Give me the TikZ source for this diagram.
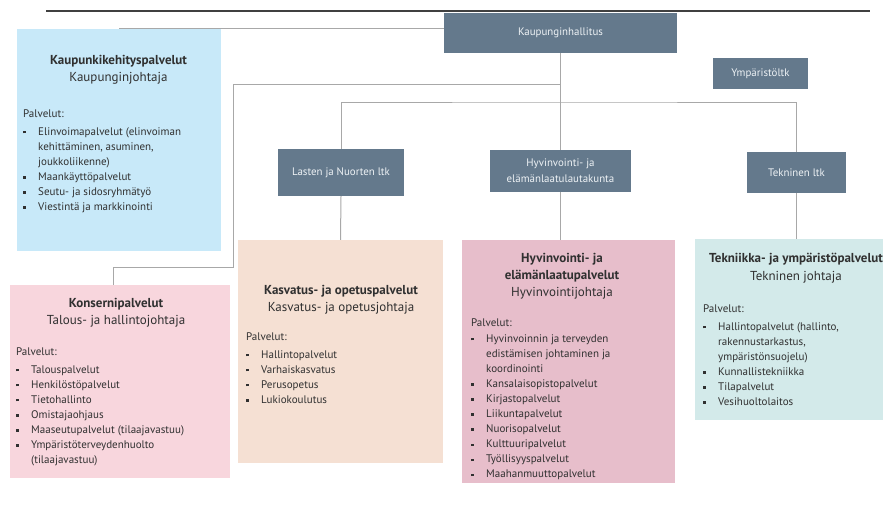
\documentclass[tikz,border=0pt]{standalone}
\usepackage{fontspec}
\setmainfont{PT Sans}
\usetikzlibrary{calc}
\definecolor{slate}{HTML}{64798C}
\definecolor{kkblue}{HTML}{C8E9F9}
\definecolor{konpink}{HTML}{F8D6DD}
\definecolor{kaspeach}{HTML}{F5E0D3}
\definecolor{hyvpink}{HTML}{E7BECB}
\definecolor{tekteal}{HTML}{D3EAEA}
\definecolor{txt}{HTML}{303030}
\definecolor{boardtxt}{HTML}{EEF2F5}
\definecolor{conn}{HTML}{A8A8A8}
\definecolor{topline}{HTML}{404040}
\newcommand\bitem{\makebox[15pt][l]{\raisebox{1.8pt}{\rule{2.4pt}{2.4pt}}}}
\newcommand\bcont{\hspace*{15pt}}
\tikzset{
 board/.style={fill=slate, draw=none, text=boardtxt, font=\fontsize{10.9}{13}\selectfont, align=center, inner sep=0pt},
 unit/.style={draw=none, inner sep=0pt},
 ttl/.style={anchor=north, align=center, inner sep=0pt, text=txt, font=\fontsize{13}{17}\selectfont},
 lst/.style={anchor=north west, align=left, inner sep=0pt, text=txt, font=\fontsize{11}{15.1}\selectfont},
 link/.style={draw=conn, line width=1pt},
}
\begin{document}
\begin{tikzpicture}[x=1pt,y=-1pt]
\useasboundingbox (0,0) rectangle (883,514);
\clip (0,0) rectangle (883,514);

% top rule
\coordinate (rl) at (46,11);
\coordinate (rr) at (870,11);
\draw[line width=1.4pt, draw=topline] (rl) -- (rr);

% service units
\node[unit, fill=kkblue, minimum width=204pt, minimum height=222pt] (kk) at (119,140) {};
\node[unit, fill=konpink, minimum width=220pt, minimum height=193pt] (kon) at (120,381.5) {};
\node[unit, fill=kaspeach, minimum width=205pt, minimum height=223pt] (kas) at (340.5,351.5) {};
\node[unit, fill=hyvpink, minimum width=213pt, minimum height=243pt] (hyv) at (568.5,361.5) {};
\node[unit, fill=tekteal, minimum width=204pt, minimum height=181pt] (tkn) at (797,329.5) {};

% boards
\node[board, minimum width=233pt, minimum height=40pt] (kh) at (560.5,33) {Kaupunginhallitus};
\node[board, minimum width=95pt, minimum height=31pt] (ymp) at (760.5,73.5) {Ympäristöltk};
\node[board, minimum width=126pt, minimum height=47pt] (lnl) at (341,172.5) {Lasten ja Nuorten ltk};
\node[board, minimum width=141pt, minimum height=42pt] (hyl) at (560.5,171) {Hyvinvointi- ja\\[3pt]elämänlaatulautakunta};
\node[board, minimum width=99pt, minimum height=41pt] (tek) at (796.5,172.5) {Tekninen ltk};

% connectors
\coordinate (j1) at (560.5,84);
\coordinate (t1) at (233,267);
\coordinate (bus) at (560.5,102);
\draw[link] ([yshift=5pt]kh.west) -| (kk.north);
\draw[link] (kh.south) -- (hyl.north);
\draw[link] (lnl.north) |- (bus) -| (tek.north);
\draw[link] (j1) -| (t1) -| ([xshift=-7pt]kon.north);
\draw[link] (lnl.south) -- (kas.north);
\draw[link] (hyl.south) -- (hyl.south |- hyv.north);
\draw[link] (tek.south) -- (tek.south |- tkn.north);

% texts
\node[ttl] (kkt) at (118.5,55) {\textbf{Kaupunkikehityspalvelut}\\Kaupunginjohtaja};
\node[lst] (kkl) at (23,110) {Palvelut:\\[2pt]
\bitem Elinvoimapalvelut (elinvoiman\\
\bcont kehittäminen, asuminen,\\
\bcont joukkoliikenne)\\
\bitem Maankäyttöpalvelut\\
\bitem Seutu- ja sidosryhmätyö\\
\bitem Viestintä ja markkinointi};

\node[ttl] (kont) at (116,298) {\textbf{Konsernipalvelut}\\Talous- ja hallintojohtaja};
\node[lst] (konl) at (16,348) {Palvelut:\\[2pt]
\bitem Talouspalvelut\\
\bitem Henkilöstöpalvelut\\
\bitem Tietohallinto\\
\bitem Omistajaohjaus\\
\bitem Maaseutupalvelut (tilaajavastuu)\\
\bitem Ympäristöterveydenhuolto\\
\bcont (tilaajavastuu)};

\node[ttl] (kast) at (341,285) {\textbf{Kasvatus- ja opetuspalvelut}\\Kasvatus- ja opetusjohtaja};
\node[lst] (kasl) at (246,333) {Palvelut:\\[2pt]
\bitem Hallintopalvelut\\
\bitem Varhaiskasvatus\\
\bitem Perusopetus\\
\bitem Lukiokoulutus};

\node[ttl] (hyvt) at (562,253) {\textbf{Hyvinvointi- ja}\\\textbf{elämänlaatupalvelut}\\Hyvinvointijohtaja};
\node[lst] (hyvl) at (471,319) {Palvelut:\\
\bitem Hyvinvoinnin ja terveyden\\
\bcont edistämisen johtaminen ja\\
\bcont koordinointi\\
\bitem Kansalaisopistopalvelut\\
\bitem Kirjastopalvelut\\
\bitem Liikuntapalvelut\\
\bitem Nuorisopalvelut\\
\bitem Kulttuuripalvelut\\
\bitem Työllisyyspalvelut\\
\bitem Maahanmuuttopalvelut};

\node[ttl] (tknt) at (796,253) {\textbf{Tekniikka- ja ympäristöpalvelut}\\[1pt]Tekninen johtaja};
\node[lst] (tknl) at (703,305) {Palvelut:\\[2pt]
\bitem Hallintopalvelut (hallinto,\\
\bcont rakennustarkastus,\\
\bcont ympäristönsuojelu)\\
\bitem Kunnallistekniikka\\
\bitem Tilapalvelut\\
\bitem Vesihuoltolaitos};
\end{tikzpicture}
\end{document}
